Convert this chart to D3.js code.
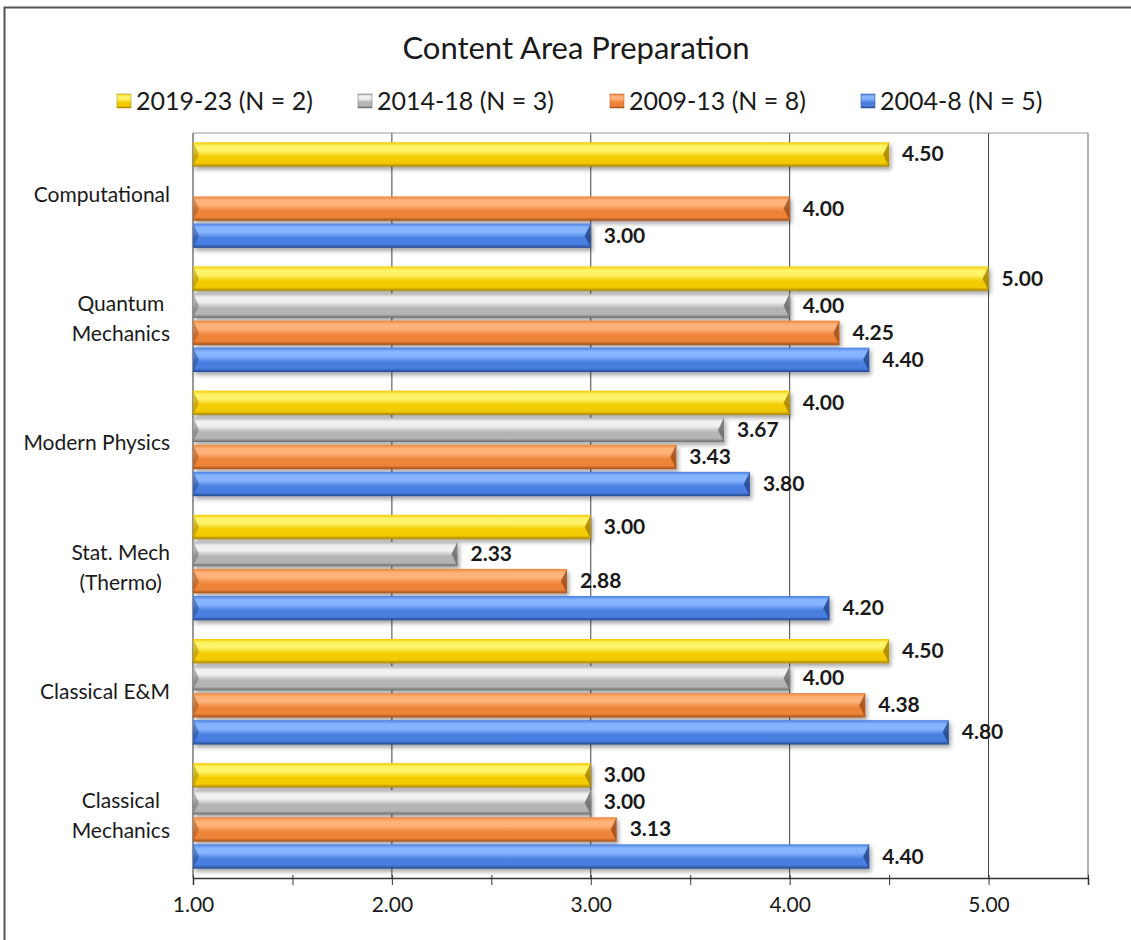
<!DOCTYPE html>
<html>
<head>
<meta charset="utf-8">
<script src="https://cdn.jsdelivr.net/npm/d3@7"></script>
<style>
body { margin: 0; background: #fff; }
text { font-family: Lato, "Open Sans", sans-serif; fill: #1a1a1a; }
</style>
</head>
<body>
<div id="chart"></div>
<script>
// categories, top to bottom as shown
var categories = [["Computational"], ["Quantum", "Mechanics"], ["Modern Physics"],
                  ["Stat. Mech", "(Thermo)"], ["Classical E&M"], ["Classical", "Mechanics"]];
var seriesNames = ["2019-23 (N = 2)", "2014-18 (N = 3)", "2009-13 (N = 8)", "2004-8 (N = 5)"];
var v2019 = [4.50, 5.00, 4.00, 3.00, 4.50, 3.00];
var v2014 = [null, 4.00, 3.67, 2.33, 4.00, 3.00];
var v2009 = [4.00, 4.25, 3.43, 2.88, 4.38, 3.13];
var v2004 = [3.00, 4.40, 3.80, 4.20, 4.80, 4.40];
var tickValues = [1, 2, 3, 4, 5];

var palette = [
  {hi: "#fff36a", mid: "#f2cc00", lo: "#a88200"},
  {hi: "#f0f0f0", mid: "#b4b4b4", lo: "#6a6a6a"},
  {hi: "#ffb27a", mid: "#ee8438", lo: "#a2501a"},
  {hi: "#86b4ff", mid: "#4a7fe0", lo: "#24478e"}
];
var allValues = [v2019, v2014, v2009, v2004];

function drawChart() {
  var W = 1131, H = 940;
  var svg = d3.select("#chart").append("svg").attr("width", W).attr("height", H);

  // outer frame
  svg.append("rect").attr("x", 4.5).attr("y", 7.5).attr("width", W - 2).attr("height", H)
    .attr("fill", "none").attr("stroke", "#555").attr("stroke-width", 2);

  var pLeft = 193, pRight = 1088, pTop = 133, pBottom = 878;

  var x = d3.scaleLinear().domain([1, 5.5]).range([pLeft, pRight]);
  var y = d3.scaleBand().domain(d3.range(categories.length)).range([pTop, pBottom]).paddingInner(0.15).paddingOuter(0.075);
  var ys = d3.scaleBand().domain(d3.range(4)).range([0, y.bandwidth()]).paddingInner(0.1);

  var defs = svg.append("defs");
  palette.forEach(function(p, i) {
    var g = defs.append("linearGradient").attr("id", "grad" + i)
      .attr("x1", 0).attr("y1", 0).attr("x2", 0).attr("y2", 1);
    [[0, p.mid], [0.15, p.hi], [0.35, p.hi], [0.6, p.mid], [0.85, p.mid], [1, p.lo]].forEach(function(s) {
      g.append("stop").attr("offset", s[0]).attr("stop-color", s[1]);
    });
  });
  var f = defs.append("filter").attr("id", "shadow").attr("x", "-5%").attr("y", "-30%").attr("width", "110%").attr("height", "180%");
  f.append("feDropShadow").attr("dx", 2).attr("dy", 3).attr("stdDeviation", 2).attr("flood-color", "#000").attr("flood-opacity", 0.35);

  // gridlines
  svg.append("g").selectAll("line").data(tickValues.slice(1).concat([5.5])).enter().append("line")
    .attr("x1", function(d) { return x(d); }).attr("x2", function(d) { return x(d); })
    .attr("y1", pTop).attr("y2", pBottom)
    .attr("stroke", function(d) { return d === 5.5 ? "#999" : "#444"; })
    .attr("stroke-width", function(d) { return d === 5.5 ? 1.5 : 1; });
  svg.append("line").attr("x1", pLeft).attr("x2", pRight).attr("y1", pTop).attr("y2", pTop).attr("stroke", "#999");
  svg.append("line").attr("x1", pLeft).attr("x2", pLeft).attr("y1", pTop).attr("y2", pBottom).attr("stroke", "#333");

  // bars
  var bars = [];
  categories.forEach(function(c, ci) {
    allValues.forEach(function(vals, si) {
      if (vals[ci] != null) bars.push({c: ci, s: si, v: vals[ci]});
    });
  });
  var bg = svg.append("g");
  bars.forEach(function(b) {
    var y0 = y(b.c) + ys(b.s), h = ys.bandwidth(), x1 = x(b.v);
    var p = palette[b.s];
    bg.append("rect").attr("x", pLeft).attr("y", y0).attr("width", x1 - pLeft).attr("height", h)
      .attr("fill", "url(#grad" + b.s + ")").attr("filter", "url(#shadow)");
    // bevel at right end
    bg.append("path").attr("d", "M" + (x1 - 6) + "," + (y0 + h / 2) + "L" + x1 + "," + y0 + "L" + x1 + "," + (y0 + h) + "Z")
      .attr("fill", p.lo).attr("opacity", 0.85);
    // bevel at left end
    bg.append("path").attr("d", "M" + pLeft + "," + y0 + "L" + (pLeft + 6) + "," + (y0 + h / 2) + "L" + pLeft + "," + (y0 + h) + "Z")
      .attr("fill", p.lo).attr("opacity", 0.5);
    bg.append("text").attr("x", x1 + 13).attr("y", y0 + h / 2 + 7)
      .attr("font-size", 21).attr("font-weight", "bold").attr("fill", "#111").text(b.v.toFixed(2));
  });

  // bottom axis
  var axis = d3.axisBottom(x).tickValues(d3.range(1, 5.51, 0.5)).tickSize(7).tickFormat(function(d) {
    return Number.isInteger(d) ? d.toFixed(2) : "";
  });
  var ag = svg.append("g").attr("transform", "translate(0," + pBottom + ")").call(axis);
  ag.select(".domain").attr("stroke", "#333").attr("stroke-width", 1.5);
  ag.selectAll(".tick line").attr("stroke", "#333").attr("y1", -3);
  ag.selectAll(".tick text").attr("font-family", "Lato, sans-serif").attr("font-size", 21).attr("fill", "#1a1a1a").attr("dy", "1.15em");

  // category labels
  categories.forEach(function(lines, ci) {
    var cy = y(ci) + y.bandwidth() / 2;
    var t = svg.append("text").attr("font-size", 21).attr("text-anchor", "middle");
    lines.forEach(function(l, li) {
      t.append("tspan").attr("x", 0).attr("y", cy + 7 + (li - (lines.length - 1) / 2) * 30).text(l);
    });
    var w = t.node().getBBox().width;
    t.selectAll("tspan").attr("x", 170 - w / 2);
  });

  // title
  svg.append("text").attr("x", 576).attr("y", 59).attr("text-anchor", "middle")
    .attr("font-size", 31).text("Content Area Preparation");

  // legend
  var legX = [117, 358, 610, 861];
  seriesNames.forEach(function(n, i) {
    var g = svg.append("g").attr("transform", "translate(" + legX[i] + ",101)");
    g.append("rect").attr("x", 0).attr("y", -7).attr("width", 14).attr("height", 14)
      .attr("fill", "url(#grad" + i + ")").attr("stroke", palette[i].lo).attr("stroke-width", 0.5);
    g.append("text").attr("x", 19).attr("y", 9).attr("font-size", 25).text(n);
  });
}
drawChart();
</script>
</body>
</html>
